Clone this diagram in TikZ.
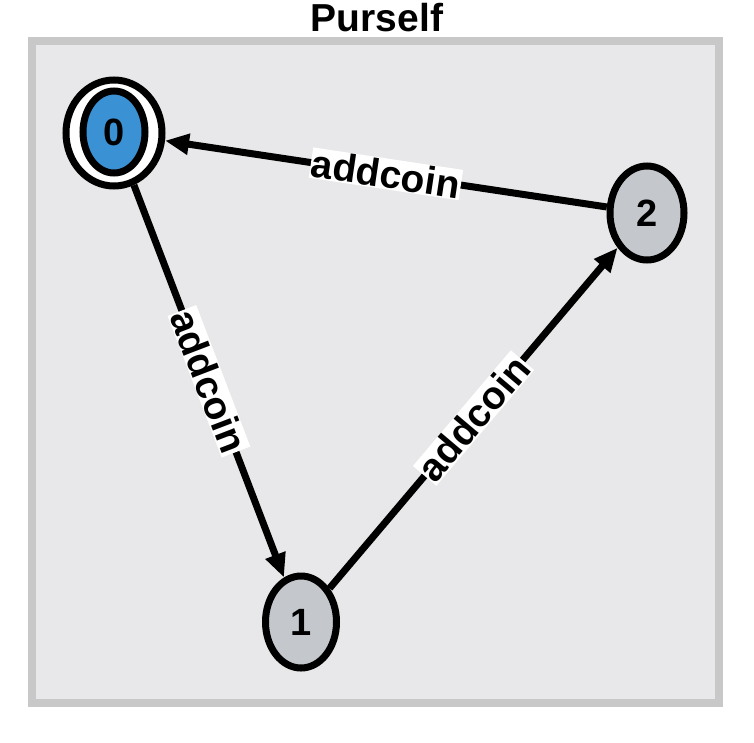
\documentclass[tikz,border=0pt]{standalone}
\usepackage{fontspec}
\setmainfont{Liberation Sans}
\usetikzlibrary{arrows.meta,shapes.geometric}
\definecolor{panelgray}{RGB}{232,232,234}
\definecolor{framegray}{RGB}{200,200,200}
\definecolor{stategray}{RGB}{196,200,205}
\definecolor{startblue}{RGB}{58,146,212}
\begin{document}
\begin{tikzpicture}[x=1pt,y=-1pt,line width=7pt]

      \useasboundingbox (0,0) rectangle (754,742);
      \fill[white] (0,0) rectangle (754,742);
      \draw[framegray,fill=panelgray,line width=8pt] (32,41) rectangle (719,703);
      \node[font=\bfseries\fontsize{39}{39}\selectfont] (title) at (377,18) {Purself};

      \begin{scope}[every node/.style={ellipse,draw,inner sep=0pt,font=\bfseries\fontsize{38}{38}\selectfont}]
        \node[fill=white,minimum width=96,minimum height=106] (0) at (114,133) {};
        \node[fill=startblue,minimum width=62,minimum height=82] (0i) at (114,132) {0};
        \node[fill=stategray,minimum width=71,minimum height=92] (1) at (301,622) {1};
        \node[fill=stategray,minimum width=74,minimum height=94] (2) at (647,213) {2};
      \end{scope}

      \begin{scope}[every node/.style={fill=white,inner sep=1pt,sloped,font=\bfseries\fontsize{39}{39}\selectfont}]

        \begin{scope}[every edge/.style={draw,-{Triangle[length=24pt,width=20pt]}}]
          \path (2) edge node {addcoin} (0);
          \path (0) edge node {addcoin} (1);
          \path (1) edge node {addcoin} (2);
        \end{scope}
      \end{scope}

    \end{tikzpicture}
\end{document}
